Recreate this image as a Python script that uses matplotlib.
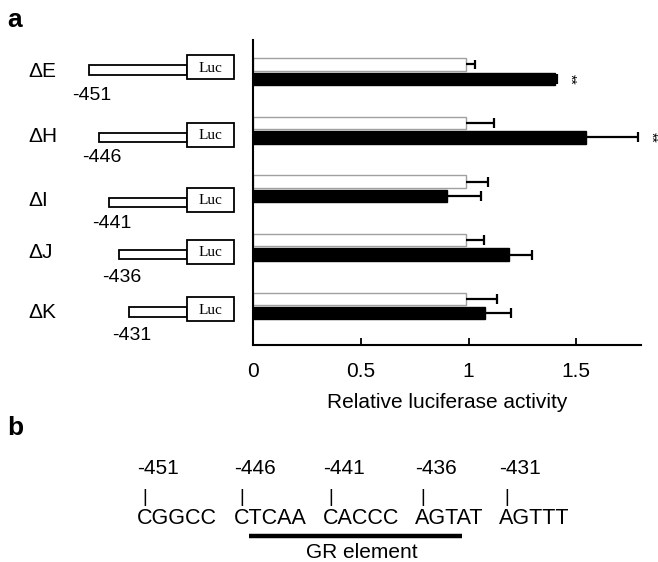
import numpy as np
import matplotlib
matplotlib.use("Agg")
import matplotlib.pyplot as plt
from matplotlib.patches import Rectangle

plt.rcParams["font.family"] = ["Liberation Sans", "DejaVu Sans"]

# -----------------------------
# Data
# -----------------------------
constructs = ["ΔE", "ΔH", "ΔI", "ΔJ", "ΔK"]
start_pos = [-451, -446, -441, -436, -431]
control = [0.99, 0.99, 0.99, 0.99, 0.99]
control_err = [0.04, 0.13, 0.10, 0.08, 0.14]
treated = [1.40, 1.545, 0.90, 1.186, 1.076]
treated_err = [0.01, 0.24, 0.16, 0.11, 0.12]
signif = ["**", "**", "", "", ""]
seq_blocks = ["CGGCC", "CTCAA", "CACCC", "AGTAT", "AGTTT"]
seq_labels = ["-451", "-446", "-441", "-436", "-431"]
xticks = [0, 0.5, 1, 1.5]
xtick_labels = ["0", "0.5", "1", "1.5"]

W, H = 658, 562
fig = plt.figure(figsize=(W / 100, H / 100), dpi=100)

# -----------------------------
# Bar chart (panel a)
# -----------------------------
ax = fig.add_axes([253 / W, 1 - 345 / H, (641 - 253) / W, (345 - 40) / H])
y = np.arange(len(constructs))
bh = 0.21
off = 0.123
cap = 0.085

ax.barh(y - off, control, height=bh, color="white", edgecolor="#a0a0a0", linewidth=1)
ax.barh(y + off, treated, height=bh, color="black", edgecolor="black", linewidth=1)

# one-sided error bars, cap only at the outer end
for vals, errs, yy in [(control, control_err, y - off), (treated, treated_err, y + off)]:
    vals = np.array(vals)
    errs = np.array(errs)
    ax.hlines(yy, vals, vals + errs, color="black", lw=1.6)
    ax.vlines(vals + errs, yy - cap, yy + cap, color="black", lw=1.6)

for i, s in enumerate(signif):
    if s:
        ax.text(treated[i] + treated_err[i] + 0.06, i + off, s, rotation=270,
                ha="center", va="center", fontsize=10, clip_on=False)

ax.set_xlim(0, 1.8)
ax.set_ylim(4.666, -0.541)
ax.set_yticks([])
ax.set_xticks(xticks)
ax.set_xticklabels(xtick_labels, fontsize=15)
ax.tick_params(axis="x", direction="in", length=5, width=1.3, pad=12)
ax.spines["top"].set_visible(False)
ax.spines["right"].set_visible(False)
ax.spines["left"].set_linewidth(1.5)
ax.spines["bottom"].set_linewidth(1.5)
ax.set_xlabel("Relative luciferase activity", fontsize=15, labelpad=9)

# -----------------------------
# Overlay in pixel coordinates
# -----------------------------
ov = fig.add_axes([0, 0, 1, 1])
ov.set_xlim(0, W)
ov.set_ylim(H, 0)
ov.axis("off")

ov.text(7, 20, "a", fontsize=19, fontweight="bold", va="center", ha="left")
ov.text(7, 428, "b", fontsize=19, fontweight="bold", va="center", ha="left")

# promoter constructs
row_y = [67, 134.5, 199.5, 251.5, 309]
label_y = [71.5, 137, 200, 253, 312.5]
num_y = [95, 157, 223, 278, 335]
for i, name in enumerate(constructs):
    x0 = 89 + (start_pos[i] - start_pos[0]) * 2
    ov.add_patch(Rectangle((x0, row_y[i] - 2), 187 - x0, 9.5,
                           facecolor="white", edgecolor="black", lw=1.3))
    ov.add_patch(Rectangle((187, row_y[i] - 12), 47, 24,
                           facecolor="white", edgecolor="black", lw=1.3))
    ov.text(210.5, row_y[i] + 1, "Luc", fontsize=11, family="Liberation Serif",
            ha="center", va="center")
    ov.text(28, label_y[i], name, fontsize=15, ha="left", va="center")
    ov.text(x0 + 3, num_y[i], str(start_pos[i]), fontsize=14, ha="center", va="center")

# -----------------------------
# Sequence (panel b)
# -----------------------------
seq_x = [137, 234, 323, 415, 499]
for i, blk in enumerate(seq_blocks):
    ov.text(seq_x[i], 469, seq_labels[i], fontsize=15, ha="left", va="center")
    ov.text(seq_x[i] + 8, 497, "|", fontsize=13, ha="center", va="center")
    ov.text(seq_x[i], 519, blk, fontsize=15.5, ha="left", va="center")

ov.plot([249, 462], [536, 536], color="black", lw=3.2, solid_capstyle="butt")
ov.text(362, 553, "GR element", fontsize=15, ha="center", va="center")

plt.savefig("out.png", dpi=100)
plt.close()
